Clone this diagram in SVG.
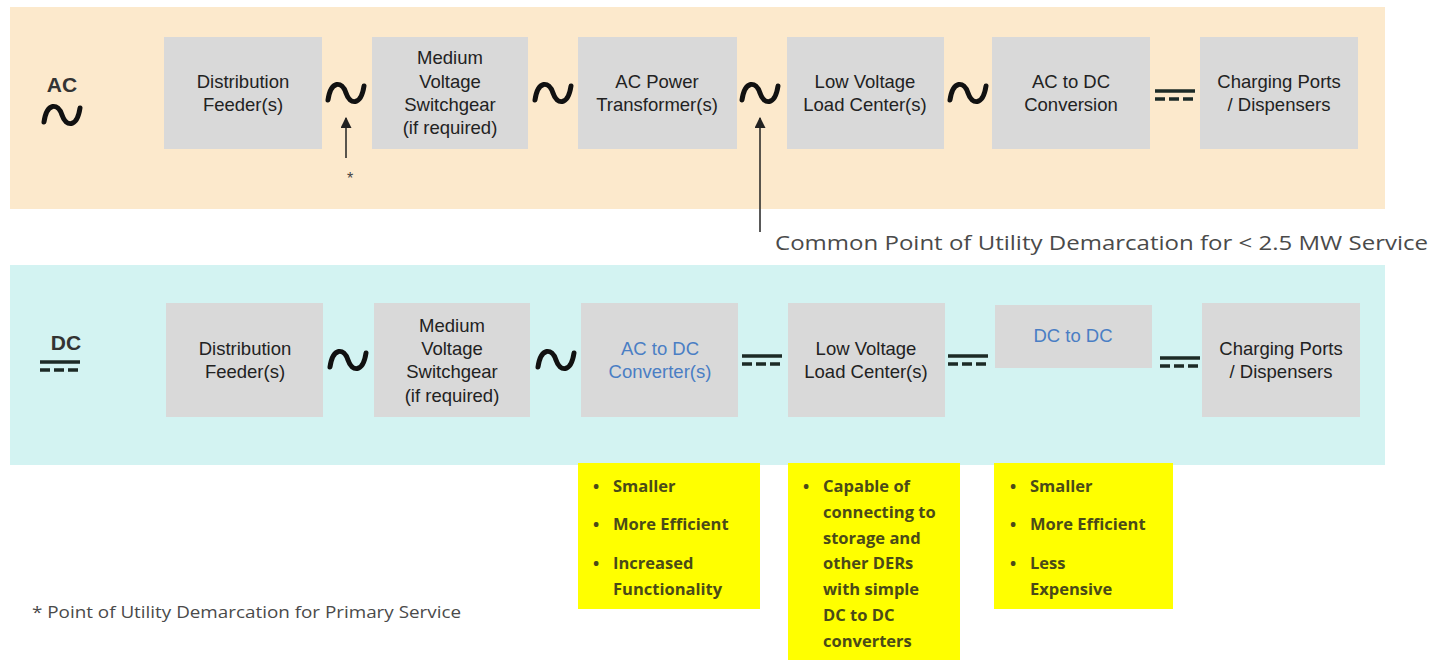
<svg xmlns="http://www.w3.org/2000/svg" width="1437" height="660" viewBox="0 0 1437 660">
<style>
.box{fill:#d9d9d9}
.t{font-family:"Liberation Sans",Arial,sans-serif;font-size:18.5px;fill:#222;text-anchor:middle}
.blue{fill:#4a7ec4}
.tilde{fill:none;stroke:#111;stroke-width:5;stroke-linecap:round}
.dcs{stroke:#1c2a26;stroke-width:3.5}
.dash{stroke:#1c2a26;stroke-width:3.5;stroke-dasharray:10,4}
.y{fill:#ffff00}
.b{font-family:"Open Sans","Liberation Sans",sans-serif;font-weight:bold;font-size:16.5px;fill:#4a4a18}
.lbl{font-family:"Liberation Sans",Arial,sans-serif;font-weight:bold;font-size:21px;fill:#333;text-anchor:middle}
.note{font-family:"Open Sans","Liberation Sans",sans-serif;fill:#4a4a4a}
.arr{stroke:#222;stroke-width:1.5;fill:none}
</style>
<defs>
<path id="tl" d="M-18,7 C-15,-13 -4,-12 0,0 C4,12 15,13 18,-7"/>
<g id="dc"><line x1="-20" y1="-4" x2="20" y2="-4" class="dcs"/><line x1="-20" y1="4" x2="20" y2="4" class="dash"/></g>
<marker id="ah" viewBox="0 0 10 10" refX="9" refY="5" markerWidth="11" markerHeight="11" orient="auto" markerUnits="userSpaceOnUse"><path d="M0,0 L10,5 L0,10 Z" fill="#222"/></marker>
</defs>
<rect x="10" y="7" width="1375" height="202" fill="#fce9cc"/>
<rect x="10" y="265" width="1375" height="200" fill="#d3f3f2"/>

<g id="ac-label"><text x="62" y="92" class="lbl">AC</text><use href="#tl" x="62" y="115" class="tilde"/></g>
<g id="dc-label"><text x="66" y="350" class="lbl">DC</text><use href="#dc" x="60" y="366"/></g>

<g id="ac1"><rect x="164" y="37" width="158" height="112" class="box"/><text class="t" x="243" y="88">Distribution</text><text class="t" x="243" y="111">Feeder(s)</text></g>
<g id="ac2"><rect x="372" y="37" width="156" height="112" class="box"/><text class="t" x="450" y="64">Medium</text><text class="t" x="450" y="88">Voltage</text><text class="t" x="450" y="111">Switchgear</text><text class="t" x="450" y="134">(if required)</text></g>
<g id="ac3"><rect x="578" y="37" width="159" height="112" class="box"/><text class="t" x="657" y="88">AC Power</text><text class="t" x="657" y="111">Transformer(s)</text></g>
<g id="ac4"><rect x="787" y="37" width="157" height="112" class="box"/><text class="t" x="865" y="88">Low Voltage</text><text class="t" x="865" y="111">Load Center(s)</text></g>
<g id="ac5"><rect x="992" y="37" width="158" height="112" class="box"/><text class="t" x="1071" y="88">AC to DC</text><text class="t" x="1071" y="111">Conversion</text></g>
<g id="ac6"><rect x="1200" y="37" width="158" height="112" class="box"/><text class="t" x="1279" y="88">Charging Ports</text><text class="t" x="1279" y="111">/ Dispensers</text></g>

<g id="dc1"><rect x="166" y="303" width="157" height="114" class="box"/><text class="t" x="245" y="355">Distribution</text><text class="t" x="245" y="378">Feeder(s)</text></g>
<g id="dc2"><rect x="374" y="303" width="156" height="114" class="box"/><text class="t" x="452" y="332">Medium</text><text class="t" x="452" y="355">Voltage</text><text class="t" x="452" y="378">Switchgear</text><text class="t" x="452" y="402">(if required)</text></g>
<g id="dc3"><rect x="581" y="303" width="157" height="114" class="box"/><text class="t blue" x="660" y="355">AC to DC</text><text class="t blue" x="660" y="378">Converter(s)</text></g>
<g id="dc4"><rect x="788" y="303" width="157" height="114" class="box"/><text class="t" x="866" y="355">Low Voltage</text><text class="t" x="866" y="378">Load Center(s)</text></g>
<g id="dc5"><rect x="995" y="305" width="157" height="63" class="box"/><text class="t blue" x="1073" y="342">DC to DC</text></g>
<g id="dc6"><rect x="1202" y="303" width="158" height="114" class="box"/><text class="t" x="1281" y="355">Charging Ports</text><text class="t" x="1281" y="378">/ Dispensers</text></g>

<g id="connectors">
<use href="#tl" x="346" y="93" class="tilde"/>
<use href="#tl" x="553" y="93" class="tilde"/>
<use href="#tl" x="760" y="93" class="tilde"/>
<use href="#tl" x="968" y="93" class="tilde"/>
<use href="#dc" x="1175" y="95"/>
<use href="#tl" x="348" y="360" class="tilde"/>
<use href="#tl" x="556" y="360" class="tilde"/>
<use href="#dc" x="762" y="360"/>
<use href="#dc" x="968" y="360"/>
<use href="#dc" x="1180" y="362"/>
<line x1="346" y1="158" x2="346" y2="118" class="arr" marker-end="url(#ah)"/>
<line x1="760" y1="232" x2="760" y2="118" class="arr" marker-end="url(#ah)"/>
</g>
<text x="350" y="184" font-family="Liberation Sans,sans-serif" font-size="16" fill="#444" text-anchor="middle">*</text>
<text x="775" y="250" class="note" font-size="20" textLength="653" lengthAdjust="spacingAndGlyphs">Common Point of Utility Demarcation for &lt; 2.5 MW Service</text>

<g id="y1"><rect x="578" y="463" width="182" height="146" class="y"/>
<text class="b"><tspan x="593" y="492">•</tspan><tspan x="613" y="492">Smaller</tspan><tspan x="593" y="530">•</tspan><tspan x="613" y="530">More Efficient</tspan><tspan x="593" y="569">•</tspan><tspan x="613" y="569">Increased</tspan><tspan x="613" y="595">Functionality</tspan></text></g>
<g id="y2"><rect x="788" y="463" width="172" height="197" class="y"/>
<text class="b"><tspan x="803" y="492">•</tspan><tspan x="823" y="492">Capable of</tspan><tspan x="823" y="518">connecting to</tspan><tspan x="823" y="544">storage and</tspan><tspan x="823" y="569">other DERs</tspan><tspan x="823" y="595">with simple</tspan><tspan x="823" y="621">DC to DC</tspan><tspan x="823" y="647">converters</tspan></text></g>
<g id="y3"><rect x="994" y="463" width="179" height="146" class="y"/>
<text class="b"><tspan x="1010" y="492">•</tspan><tspan x="1030" y="492">Smaller</tspan><tspan x="1010" y="530">•</tspan><tspan x="1030" y="530">More Efficient</tspan><tspan x="1010" y="569">•</tspan><tspan x="1030" y="569">Less</tspan><tspan x="1030" y="595">Expensive</tspan></text></g>

<text x="32" y="618" class="note" font-size="16" textLength="429" lengthAdjust="spacingAndGlyphs">* Point of Utility Demarcation for Primary Service</text>
</svg>
